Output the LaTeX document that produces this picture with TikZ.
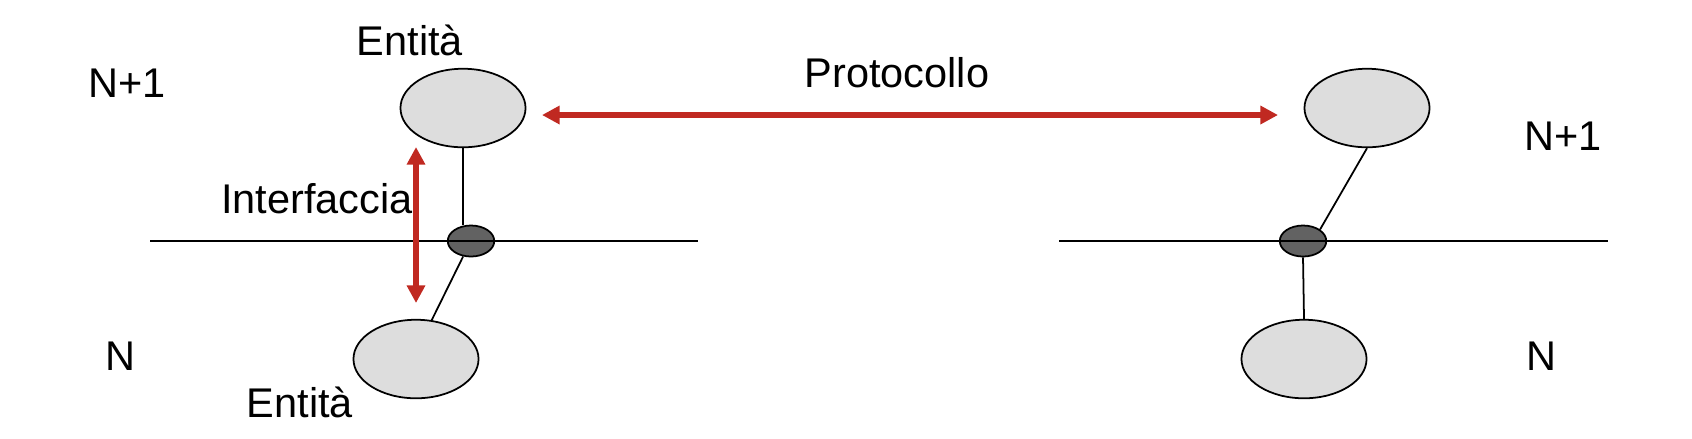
\documentclass[tikz,border=0pt]{standalone}
\usepackage{fontspec}
\setmainfont{Liberation Sans}
\usetikzlibrary{shapes.geometric,arrows.meta}
\definecolor{entgray}{RGB}{221,221,221}
\definecolor{sapgray}{RGB}{98,98,98}
\definecolor{protred}{RGB}{192,41,33}

\begin{document}
\begin{tikzpicture}[x=0.01cm, y=-0.01cm, line width=0.5pt,
  entity/.style={draw, ellipse, fill=entgray, minimum width=1.25cm, minimum height=0.785cm, inner sep=0pt},
  sap/.style={draw, ellipse, fill=sapgray, minimum width=0.465cm, minimum height=0.31cm, inner sep=0pt},
  lbl/.style={anchor=base, inner sep=0pt, font=\fontsize{11.8}{14}\selectfont},
  redarrow/.style={draw=protred, line width=1.7pt, {Triangle[length=5pt, width=5pt]}-{Triangle[length=5pt, width=5pt]}}]
  \useasboundingbox (0,0) rectangle (1692,438);

  % left stack
  \node[entity] (TL) at (463,108) {};
  \node[sap] (SL) at (471,241) {};
  \node[entity] (BL) at (416,359) {};
  \coordinate (L1) at (150,241);
  \coordinate (L2) at (698,241);
  \draw (L1) -- (L2);
  \draw (TL.south) -- (TL.south |- SL.north);
  \draw (SL.243) -- (BL.68);

  % right stack
  \node[entity] (TR) at (1367,108) {};
  \node[sap] (SR) at (1303,241) {};
  \node[entity] (BR) at (1304,359) {};
  \coordinate (R1) at (1059,241);
  \coordinate (R2) at (1608,241);
  \draw (R1) -- (R2);
  \draw (TR.south) -- (SR.north east);
  \draw (SR.south) -- (BR.north);

  % labels
  \node[lbl] (E1) at (410,55) {Entità};
  \node[lbl] (E2) at (300,417) {Entità};
  \node[lbl] (I) at (317,213) {Interfaccia};
  \node[lbl] (P) at (897,87) {Protocollo};
  \node[lbl] (NL1) at (127,97) {N+1};
  \node[lbl] (NL) at (120,370) {N};
  \node[lbl] (NR1) at (1563,150) {N+1};
  \node[lbl] (NR) at (1541,370) {N};

  \coordinate (P1) at (542,115);
  \coordinate (P2) at (1278,115);
  \draw[redarrow] (P1) -- (P2);
  \coordinate (I1) at (416,147);
  \coordinate (I2) at (416,303);
  \draw[redarrow] (I1) -- (I2);
\end{tikzpicture}
\end{document}
